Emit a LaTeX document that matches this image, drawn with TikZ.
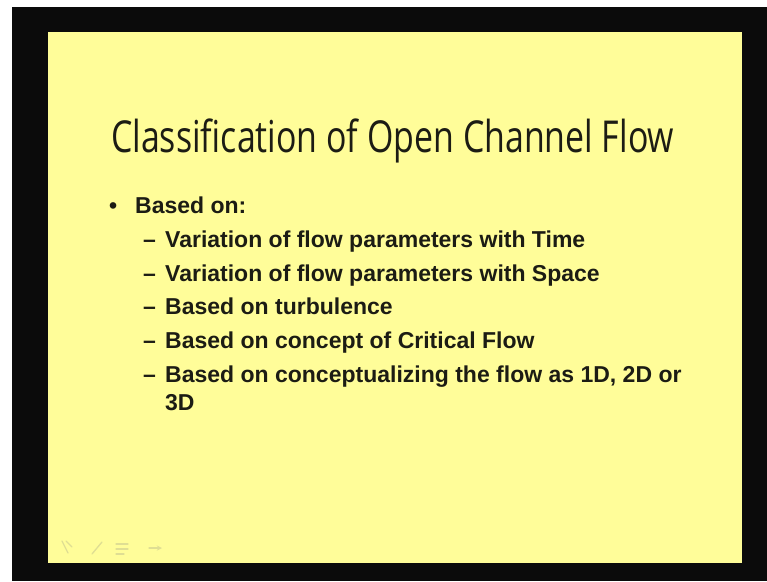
\documentclass[tikz,border=0pt]{standalone}
\usepackage{fontspec}
\setmainfont{Liberation Sans}
\newfontfamily\titlefont[FakeStretch=0.77]{Open Sans}
\usepackage{xcolor}
\usetikzlibrary{
    arrows.meta,
    positioning,
    calc
}
\definecolor{slideyellow}{HTML}{FFFD99}
\definecolor{framegray}{HTML}{0B0B0B}
\definecolor{inkgray}{HTML}{1C1C14}

\begin{document}
\begin{tikzpicture}[x=1pt, y=-1pt, >=stealth,
    title-node/.style={anchor=base west, inner sep=0pt, text=inkgray,
                font=\titlefont\fontsize{44}{50}\selectfont},
    item-node/.style={anchor=base west, inner sep=0pt, text=inkgray,
                font=\bfseries\fontsize{23}{28}\selectfont},
    icon-mark/.style={draw=slideyellow!75!gray, line width=1.3pt, line cap=round}]
                \useasboundingbox (0,0) rectangle (767,581);
                \fill[white] (0,0) rectangle (767,581);
                \fill[framegray] (12,7) rectangle (767,581);
                \fill[slideyellow] (48,32) rectangle (742,563);
                \node[title-node] (title) at (111,152) {Classification of Open Channel Flow};
                \node[item-node] (bullet) at (109,213) {\textbullet};
                \node[item-node] (basedon) at (135,213) {Based on:};
                \node[item-node] (dash1) at (143,247) {--};
                \node[item-node] (item1) at (165,247) {Variation of flow parameters with Time};
                \node[item-node] (dash2) at (143,281) {--};
                \node[item-node] (item2) at (165,281) {Variation of flow parameters with Space};
                \node[item-node] (dash3) at (143,314) {--};
                \node[item-node] (item3) at (165,314) {Based on turbulence};
                \node[item-node] (dash4) at (143,348) {--};
                \node[item-node] (item4) at (165,348) {Based on concept of Critical Flow};
                \node[item-node] (dash5) at (143,382) {--};
                \node[item-node] (item5) at (165,382) {Based on conceptualizing the flow as 1D, 2D or};
                \node[item-node] (item5b) at (165,410) {3D};
                % faint slide show buttons
                \draw[icon-mark] (62,541) -- (68,553) (66,541) -- (72,547);
                \draw[icon-mark] (92,554) -- (102,542);
                \draw[icon-mark] (116,544) -- (128,544) (116,549) -- (128,549) (116,554) -- (124,554);
                \draw[icon-mark, ->] (149,548) -- (162,548);
            \end{tikzpicture}
\end{document}
